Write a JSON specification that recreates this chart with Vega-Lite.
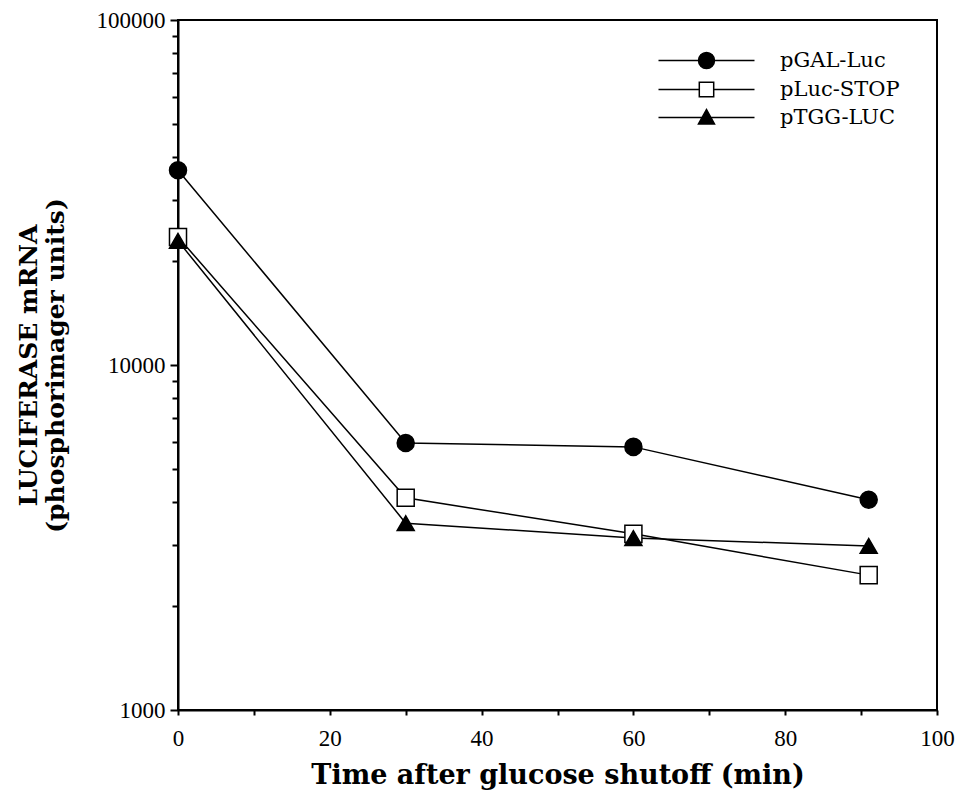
{
  "$schema": "https://vega.github.io/schema/vega-lite/v6.json",
  "width": 759,
  "height": 690,
  "autosize": "none",
  "padding": {"left": 178, "top": 20, "right": 39, "bottom": 88},
  "background": "white",
  "config": {
    "view": {"stroke": "black", "strokeWidth": 2},
    "font": "DejaVu Serif"
  },
  "data": {
    "values": [
      {"series": "pGAL-Luc", "time": 0, "value": 36700},
      {"series": "pGAL-Luc", "time": 30, "value": 5940},
      {"series": "pGAL-Luc", "time": 60, "value": 5790},
      {"series": "pGAL-Luc", "time": 91, "value": 4070},
      {"series": "pLuc-STOP", "time": 0, "value": 23500},
      {"series": "pLuc-STOP", "time": 30, "value": 4120},
      {"series": "pLuc-STOP", "time": 60, "value": 3240},
      {"series": "pLuc-STOP", "time": 91, "value": 2460},
      {"series": "pTGG-LUC", "time": 0, "value": 22900},
      {"series": "pTGG-LUC", "time": 30, "value": 3480},
      {"series": "pTGG-LUC", "time": 60, "value": 3150},
      {"series": "pTGG-LUC", "time": 91, "value": 2990}
    ]
  },
  "encoding": {
    "x": {
      "field": "time",
      "type": "quantitative",
      "scale": {"domain": [0, 100], "nice": false},
      "axis": {
        "title": "Time after glucose shutoff (min)",
        "titleFont": "DejaVu Serif",
        "titleFontWeight": "bold",
        "titleFontSize": 27,
        "titleColor": "black",
        "titlePadding": 12,
        "values": [0, 10, 20, 30, 40, 50, 60, 70, 80, 90, 100],
        "labelExpr": "datum.value % 20 == 0 ? datum.label : ''",
        "labelFont": "Liberation Serif",
        "labelFontSize": 23,
        "labelColor": "black",
        "labelPadding": 12,
        "labelFlush": false,
        "tickSize": 5,
        "tickWidth": 2,
        "tickColor": "black",
        "domainColor": "black",
        "domainWidth": 2,
        "grid": false
      }
    },
    "y": {
      "field": "value",
      "type": "quantitative",
      "scale": {"type": "log", "domain": [1000, 100000], "nice": false},
      "axis": {
        "title": ["LUCIFERASE mRNA", "(phosphorimager units)"],
        "titleFont": "DejaVu Serif",
        "titleFontWeight": "bold",
        "titleFontSize": 25,
        "titleColor": "black",
        "titleLineHeight": 27,
        "titlePadding": 28,
        "values": [1000, 2000, 3000, 4000, 5000, 6000, 7000, 8000, 9000, 10000, 20000, 30000, 40000, 50000, 60000, 70000, 80000, 90000, 100000],
        "labelExpr": "datum.value == 1000 || datum.value == 10000 || datum.value == 100000 ? format(datum.value, 'd') : ''",
        "labelFont": "Liberation Serif",
        "labelFontSize": 23,
        "labelColor": "black",
        "labelPadding": 5,
        "labelFlush": false,
        "tickSize": {"condition": {"test": "datum.value == 1000 || datum.value == 10000 || datum.value == 100000", "value": 8}, "value": 6},
        "tickWidth": 2,
        "tickColor": "black",
        "domainColor": "black",
        "domainWidth": 2,
        "grid": false
      }
    }
  },
  "layer": [
    {
      "mark": {"type": "line", "color": "black", "strokeWidth": 1.5},
      "encoding": {"detail": {"field": "series", "type": "nominal"}}
    },
    {
      "mark": {"type": "point", "filled": true, "stroke": "black", "strokeWidth": 1.5, "opacity": 1, "size": 290},
      "encoding": {
        "shape": {
          "field": "series",
          "type": "nominal",
          "scale": {"domain": ["pGAL-Luc", "pLuc-STOP", "pTGG-LUC"], "range": ["circle", "square", "triangle-up"]},
          "legend": null
        },
        "fill": {
          "field": "series",
          "type": "nominal",
          "scale": {"domain": ["pGAL-Luc", "pLuc-STOP", "pTGG-LUC"], "range": ["black", "white", "black"]},
          "legend": null
        }
      }
    },
    {
      "transform": [{"filter": "false"}],
      "mark": {"type": "point", "filled": true, "stroke": "black", "strokeWidth": 1.5, "opacity": 1, "size": 256},
      "encoding": {
        "shape": {
          "field": "series",
          "type": "nominal",
          "scale": {
            "domain": ["pGAL-Luc", "pLuc-STOP", "pTGG-LUC"],
            "range": [
              "M-6,0H-1M1,0H6M-1,0A1,1,0,1,0,1,0A1,1,0,1,0,-1,0Z",
              "M-6,0H-0.9M0.9,0H6M-0.9,-0.9H0.9V0.9H-0.9Z",
              "M-6,0H6M-1,0.8L0,-1L1,0.8Z"
            ]
          },
          "legend": {
            "orient": "none",
            "legendX": 518,
            "legendY": 30,
            "title": null,
            "padding": 0,
            "labelFont": "DejaVu Serif",
            "labelFontSize": 21,
            "labelColor": "black",
            "labelOffset": 63,
            "rowPadding": 6,
            "symbolSize": 256,
            "symbolStrokeWidth": 1.5,
            "symbolStrokeColor": "black",
            "symbolOpacity": 1,
            "encode": {
              "symbols": {
                "update": {
                  "stroke": {"value": "black"},
                  "strokeWidth": {"value": 1.5},
                  "strokeOpacity": {"value": 1}
                }
              }
            }
          }
        },
        "fill": {
          "field": "series",
          "type": "nominal",
          "scale": {"domain": ["pGAL-Luc", "pLuc-STOP", "pTGG-LUC"], "range": ["black", "white", "black"]},
          "legend": {
            "orient": "none",
            "legendX": 518,
            "legendY": 30,
            "title": null,
            "padding": 0,
            "labelFont": "DejaVu Serif",
            "labelFontSize": 21,
            "labelColor": "black",
            "labelOffset": 63,
            "rowPadding": 6,
            "symbolSize": 256,
            "symbolStrokeWidth": 1.5,
            "symbolStrokeColor": "black",
            "symbolOpacity": 1,
            "encode": {
              "symbols": {
                "update": {
                  "stroke": {"value": "black"},
                  "strokeWidth": {"value": 1.5},
                  "strokeOpacity": {"value": 1}
                }
              }
            }
          }
        }
      }
    }
  ],
  "resolve": {
    "scale": {"shape": "independent", "fill": "independent"},
    "legend": {"shape": "independent", "fill": "independent"}
  }
}
